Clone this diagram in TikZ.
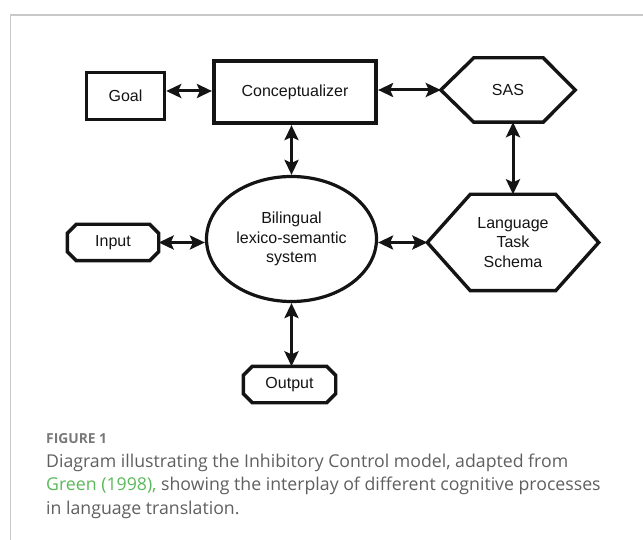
\documentclass[tikz,border=0pt]{standalone}
\usepackage{fontspec}
\setmainfont{Liberation Sans}
\newfontfamily\capfont{Open Sans}
\usetikzlibrary{arrows.meta,shapes.geometric,calc}
\definecolor{framegray}{RGB}{200,200,200}
\definecolor{captxt}{RGB}{95,95,95}
\definecolor{caplabel}{RGB}{120,120,120}
\definecolor{capgreen}{RGB}{90,185,90}
\definecolor{ink}{RGB}{20,20,20}
\begin{document}
\begin{tikzpicture}[x=1pt,y=-1pt,
  lbl/.style={font=\fontsize{16}{19.5}\selectfont, align=center, inner sep=0pt, text=ink},
  boxed/.style={lbl, draw=ink, line width=3.4pt},
  anchorbox/.style={lbl, shape=rectangle},
  shapeline/.style={draw=ink, line width=3.4pt, line join=miter},
  link/.style={draw=ink, line width=3pt, {Stealth[length=15pt,width=14pt,inset=3pt]}-{Stealth[length=15pt,width=14pt,inset=3pt]}},
  captext/.style={text=captxt, anchor=base west, inner sep=0pt}
]
\useasboundingbox (0,0) rectangle (643,540);
\draw[framegray, line width=1.5pt] (10.5,545) -- (10.5,15) -- (650,15);

% nodes
\node[boxed, minimum width=78pt, minimum height=47pt] (goal) at (125.5,96) {Goal};
\node[boxed, line width=4.2pt, minimum width=162pt, minimum height=62pt] (concept) at (295,92) {Conceptualizer};
\node[anchorbox, minimum width=134pt, minimum height=64pt] (sas) at (508,90) {SAS};
\node[anchorbox, minimum width=171pt, minimum height=96pt] (lts) at (513,242.5) {Language\\Task\\Schema};
\node[lbl, draw=ink, shape=ellipse, line width=3.2pt, minimum width=170pt, minimum height=125pt] (bls) at (291.5,239) {Bilingual\\lexico-semantic\\system};
\node[anchorbox, minimum width=91pt, minimum height=36pt] (input) at (113,242.5) {Input};
\node[anchorbox, minimum width=92pt, minimum height=36pt] (output) at (289.5,384.5) {Output};

% hexagons
\draw[shapeline] (sas.west) -- ($(sas.north west)+(33,0)$) -- ($(sas.north east)+(-32,0)$) -- (sas.east)
  -- ($(sas.south east)+(-32,0)$) -- ($(sas.south west)+(33,0)$) -- cycle;
\draw[shapeline] (lts.west) -- ($(lts.north west)+(43,0)$) -- ($(lts.north east)+(-43,0)$) -- (lts.east)
  -- ($(lts.south east)+(-43,0)$) -- ($(lts.south west)+(43,0)$) -- cycle;
% octagons
\foreach \n in {input,output}{
  \draw[shapeline] ($(\n.north west)+(9,0)$) -- ($(\n.north east)+(-9,0)$) -- ($(\n.north east)+(0,9)$)
    -- ($(\n.south east)+(0,-9)$) -- ($(\n.south east)+(-9,0)$) -- ($(\n.south west)+(9,0)$)
    -- ($(\n.south west)+(0,-9)$) -- ($(\n.north west)+(0,9)$) -- cycle;
}

% connectors
\draw[link] (goal.east |- 0,91) -- (concept.west |- 0,91);
\draw[link] (concept.east |- sas.west) -- (sas.west);
\draw[link] (concept.south -| bls.north) -- (bls.north);
\draw[link] (lts.north |- sas.south) -- (lts.north);
\draw[link] (input.east) -- (bls.west |- input.east);
\draw[link] (bls.east |- lts.west) -- (lts.west);
\draw[link] (bls.south) -- (bls.south |- output.north);

% caption
\node[captext, text=caplabel, font=\capfont\bfseries\fontsize{13.8}{16}\selectfont] (figlabel) at (46,443) {FIGURE 1};
\node[captext, font=\capfont\fontsize{17.7}{22}\selectfont] (cap1) at (46,467) {Diagram illustrating the Inhibitory Control model, adapted from};
\node[captext, font=\capfont\fontsize{17.7}{22}\selectfont] (cap2) at (46,490.5) {\textcolor{capgreen}{Green (1998),} showing the interplay of different cognitive processes};
\node[captext, font=\capfont\fontsize{17.7}{22}\selectfont] (cap3) at (46,514) {in language translation.};
\end{tikzpicture}
\end{document}
